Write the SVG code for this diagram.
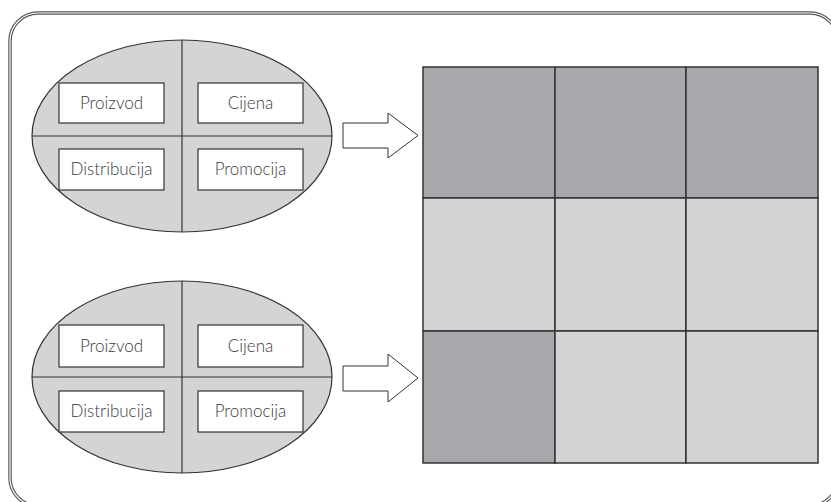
<svg xmlns="http://www.w3.org/2000/svg" width="831" height="502" viewBox="0 0 831 502">
<style>
.frame-o{fill:none;stroke:#555;stroke-width:3.5}
.frame-i{fill:none;stroke:#fff;stroke-width:1.2}
.ell{fill:#d3d4d5;stroke:#333;stroke-width:1.2}
.div{stroke:#333;stroke-width:1.2}
.box{fill:#fff;stroke:#333;stroke-width:1.2}
.lbl{font-family:Lato,"Liberation Sans",sans-serif;font-size:17px;font-weight:300;fill:#3a3a3a;text-anchor:middle}
.arr{fill:#fff;stroke:#333;stroke-width:1}
.dark{fill:#a7a8ab;stroke:#333;stroke-width:1.5}
.light{fill:#d3d4d5;stroke:#333;stroke-width:1.5}
</style>
<rect width="831" height="502" fill="#fff"/>
<g id="frame">
<rect class="frame-o" x="10" y="13" width="828" height="493" rx="28"/>
<rect class="frame-i" x="10" y="13" width="828" height="493" rx="28"/>
</g>
<g id="mix1">
<ellipse class="ell" cx="182" cy="136" rx="150" ry="96"/>
<line class="div" x1="182" y1="40" x2="182" y2="232"/>
<line class="div" x1="32" y1="136" x2="332" y2="136"/>
<g id="mix1-proizvod"><rect class="box" x="59" y="83" width="105" height="40"/><text class="lbl" x="111.5" y="109">Proizvod</text></g>
<g id="mix1-cijena"><rect class="box" x="198" y="83" width="105" height="40"/><text class="lbl" x="250.5" y="109">Cijena</text></g>
<g id="mix1-distribucija"><rect class="box" x="59" y="149" width="105" height="41"/><text class="lbl" x="111.5" y="175">Distribucija</text></g>
<g id="mix1-promocija"><rect class="box" x="198" y="149" width="105" height="41"/><text class="lbl" x="250.5" y="175">Promocija</text></g>
</g>
<g id="mix2">
<ellipse class="ell" cx="182" cy="377" rx="150" ry="96"/>
<line class="div" x1="182" y1="281" x2="182" y2="473"/>
<line class="div" x1="32" y1="377" x2="332" y2="377"/>
<g id="mix2-proizvod"><rect class="box" x="59" y="325" width="105" height="42"/><text class="lbl" x="111.5" y="352">Proizvod</text></g>
<g id="mix2-cijena"><rect class="box" x="198" y="325" width="105" height="42"/><text class="lbl" x="250.5" y="352">Cijena</text></g>
<g id="mix2-distribucija"><rect class="box" x="59" y="391" width="105" height="41"/><text class="lbl" x="111.5" y="417">Distribucija</text></g>
<g id="mix2-promocija"><rect class="box" x="198" y="391" width="105" height="41"/><text class="lbl" x="250.5" y="417">Promocija</text></g>
</g>
<g id="connectors">
<polygon class="arr" points="343,123 388,123 388,113 418,135.5 388,158 388,148 343,148"/>
<polygon class="arr" points="343,366 388,366 388,354 418,378 388,402 388,391 343,391"/>
</g>
<g id="grid">
<rect class="dark" x="423" y="67" width="132" height="131"/>
<rect class="dark" x="555" y="67" width="131" height="131"/>
<rect class="dark" x="686" y="67" width="132" height="131"/>
<rect class="light" x="423" y="198" width="132" height="133"/>
<rect class="light" x="555" y="198" width="131" height="133"/>
<rect class="light" x="686" y="198" width="132" height="133"/>
<rect class="dark" x="423" y="331" width="132" height="132"/>
<rect class="light" x="555" y="331" width="131" height="132"/>
<rect class="light" x="686" y="331" width="132" height="132"/>
</g>
</svg>
